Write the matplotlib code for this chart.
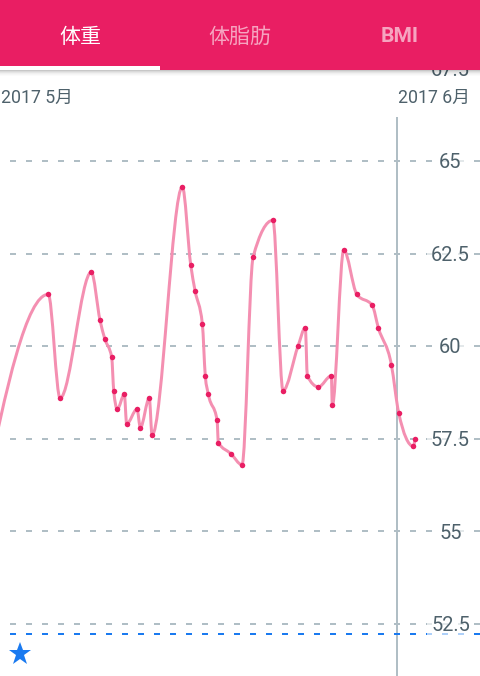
import matplotlib
matplotlib.use('Agg')
import matplotlib.pyplot as plt
import matplotlib.transforms as mtransforms
from matplotlib.path import Path
from matplotlib.patches import PathPatch, Rectangle

plt.rcParams['font.family'] = ['Roboto', 'Noto Sans CJK JP', 'DejaVu Sans']
plt.rcParams['lines.scale_dashes'] = False

# ---------------- data ----------------
# x: days since 2017-05-01 00:00 (first two entries lie left of the visible window)
days = [-2.5, -1.2, 3.77, 4.69, 7.13, 7.81, 8.18, 8.72, 8.88, 9.16, 9.71, 9.89,
        10.70, 10.96, 11.66, 11.87, 14.24, 14.89, 15.23, 15.80, 16.03, 16.27,
        16.95, 17.05, 18.02, 18.90, 19.76, 21.31, 22.10, 23.27, 23.84, 24.00,
        24.86, 25.87, 25.95, 26.84, 27.86, 29.07, 29.54, 30.56, 31.13, 32.27, 32.41]
weights = [53.5, 56.0, 61.4, 58.6, 62.0, 60.7, 60.2, 59.7, 58.8, 58.3, 58.7, 57.9,
           58.3, 57.8, 58.6, 57.6, 64.3, 62.2, 61.5, 60.6, 59.2, 58.7,
           58.0, 57.4, 57.1, 56.8, 62.4, 63.4, 58.8, 60.0, 60.5, 59.2,
           58.9, 59.2, 58.4, 62.6, 61.4, 61.1, 60.5, 59.5, 58.2, 57.3, 57.5]
goal_weight = 52.23
y_ticks = [52.5, 55.0, 57.5, 60.0, 62.5, 65.0, 67.5]
month_starts = [0, 31]
month_labels = ['2017 5月', '2017 6月']
tab_labels = ['体重', '体脂肪', 'BMI']

# ---------------- styling ----------------
W, H, DPI = 480, 676, 100
PINK = '#E91E63'
LINE_PINK = '#F48FB1'
GRID = '#B0BEC5'
TEXT = '#4E616B'
BLUE = '#1A7AF0'
px = 72.0 / DPI  # points per pixel

fig = plt.figure(figsize=(W / DPI, H / DPI), dpi=DPI)
fig.patch.set_facecolor('white')
ax = fig.add_axes([0, 0, 1, 1])
ax.set_axis_off()
ax.set_xlim(0, 37.48)
ax.set_ylim(51.096, 69.347)

dash = (6 * px, (6 * px, 10 * px))

# grid lines
for v in y_ticks:
    ax.axhline(v, color=GRID, lw=2 * px, linestyle=dash, zorder=2)

# vertical month boundary
ax.axvline(month_starts[1], ymin=0, ymax=1 - 118 / H, color=GRID, lw=2 * px, zorder=1)

# goal line + star
ax.axhline(goal_weight, color=BLUE, lw=2 * px, linestyle=dash, zorder=3)
star_tr = mtransforms.blended_transform_factory(ax.transAxes, ax.transData) + \
    mtransforms.ScaledTranslation(0, -20 / DPI, fig.dpi_scale_trans)
ax.plot([19.5 / W], [goal_weight], marker='*', markersize=24 * px, color=BLUE,
        markeredgewidth=0, transform=star_tr, zorder=6, clip_on=False)

# tick labels on the right
lab_tr = mtransforms.blended_transform_factory(ax.transAxes, ax.transData) + \
    mtransforms.ScaledTranslation(0, -7.2 / DPI, fig.dpi_scale_trans)
for v in y_ticks:
    ax.text(450.5 / W, v, f'{v:g}', transform=lab_tr, ha='center', va='baseline',
            fontsize=20 * px, color=TEXT, zorder=4,
            bbox=dict(boxstyle='square,pad=0.2', fc='white', ec='none', alpha=0.65))


# monotone cubic curve (monotone-X / Steffen)
def _sign(v):
    return -1.0 if v < 0 else 1.0


def monotone_path(xs, ys):
    n = len(xs)
    t = [0.0] * n
    for i in range(1, n - 1):
        h0, h1 = xs[i] - xs[i - 1], xs[i + 1] - xs[i]
        s0, s1 = (ys[i] - ys[i - 1]) / h0, (ys[i + 1] - ys[i]) / h1
        p = (s0 * h1 + s1 * h0) / (h0 + h1)
        t[i] = (_sign(s0) + _sign(s1)) * min(abs(s0), abs(s1), 0.5 * abs(p))
    h = xs[1] - xs[0]
    t[0] = (3 * (ys[1] - ys[0]) / h - t[1]) / 2
    h = xs[-1] - xs[-2]
    t[-1] = (3 * (ys[-1] - ys[-2]) / h - t[-2]) / 2
    verts = [(xs[0], ys[0])]
    codes = [Path.MOVETO]
    for i in range(n - 1):
        dx = (xs[i + 1] - xs[i]) / 3
        verts += [(xs[i] + dx, ys[i] + dx * t[i]),
                  (xs[i + 1] - dx, ys[i + 1] - dx * t[i + 1]),
                  (xs[i + 1], ys[i + 1])]
        codes += [Path.CURVE4] * 3
    return Path(verts, codes)


ax.add_patch(PathPatch(monotone_path(days, weights), fill=False, edgecolor=LINE_PINK,
                       lw=3 * px, capstyle='round', joinstyle='round', zorder=5))
ax.plot(days, weights, 'o', color=PINK, markersize=5.5 * px, markeredgewidth=0, zorder=6)

# month labels
for ms, lab in zip(month_starts, month_labels):
    xpix = max(ms * 397 / 31 + 1, 0)
    fig.text(xpix / W, 1 - 103.3 / H, lab, ha='left', va='baseline',
             fontsize=17.8 * px, color=TEXT)

# header bar
fig.add_artist(Rectangle((0, 1 - 69.5 / H), 1, 69.5 / H, transform=fig.transFigure,
                         facecolor=PINK, edgecolor='none', zorder=10))
for i, a in enumerate([0.22, 0.15, 0.10, 0.06, 0.035, 0.015]):
    fig.add_artist(Rectangle((0, 1 - (70.5 + i) / H), 1, 1 / H, transform=fig.transFigure,
                             facecolor='black', alpha=a, edgecolor='none', zorder=9))
fig.add_artist(Rectangle((0, 1 - 69.5 / H), 160 / W, 3.5 / H, transform=fig.transFigure,
                         facecolor='white', edgecolor='none', zorder=11))
tab_centers = [80, 240, 400]
for i, (cx, lab) in enumerate(zip(tab_centers, tab_labels)):
    col = 'white' if i == 0 else (1, 1, 1, 0.6)
    fig.text(cx / W, 1 - 35 / H, lab, ha='center', va='center_baseline',
             fontsize=21 * px, color=col, zorder=12,
             fontweight='bold' if lab == 'BMI' else 'normal')

fig.savefig('out.png', dpi=DPI)
